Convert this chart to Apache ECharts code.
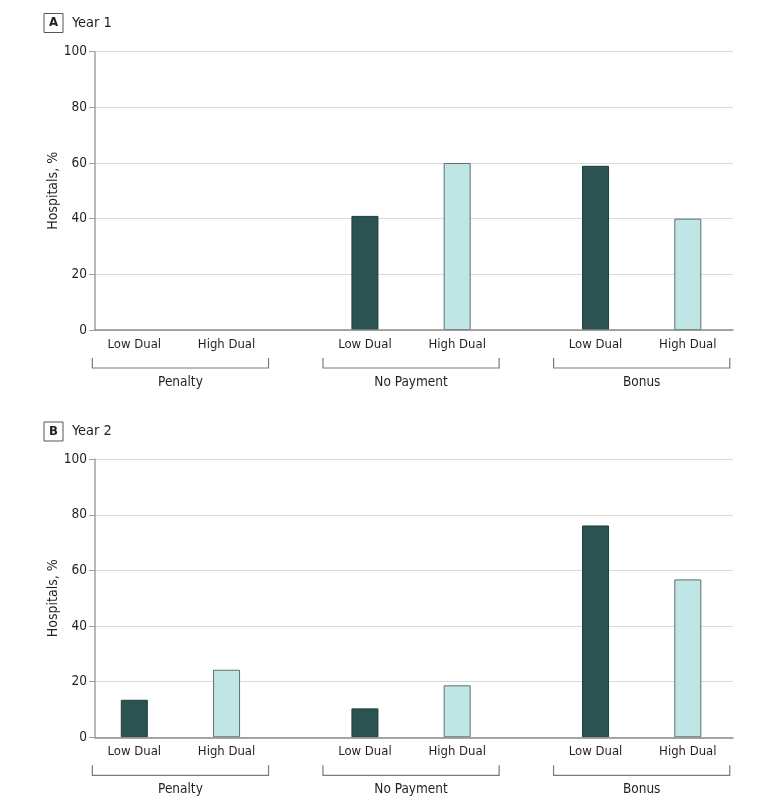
<!DOCTYPE html>
<html>
<head>
<meta charset="utf-8">
<script src="https://cdn.jsdelivr.net/npm/echarts@6/dist/echarts.min.js"></script>
<style>
html,body{margin:0;padding:0;background:#fff;}
#chart{width:780px;height:809px;}
</style>
</head>
<body>
<div id="chart"></div>
<script>
// ---- data ----
const groups = ['Penalty', 'No Payment', 'Bonus'];
const duals = ['Low Dual', 'High Dual'];
const panelTitles = [['A', 'Year 1'], ['B', 'Year 2']];
const year1Low = [0, 41, 59];
const year1High = [0, 60, 40];
const year2Low = [13.5, 10.4, 76.2];
const year2High = [24.3, 18.7, 56.8];
const yTickLabels = [0, 20, 40, 60, 80, 100];
const yAxisName = 'Hospitals, %';

// ---- layout (slot units on a hidden value axis) ----
const groupStride = 5;
const dualOffset = [0, 2];
const xMin = -0.852, xMax = 12.98;
const bracketHalf = 1.91;
const FONT = '"DejaVu Sans Condensed", "DejaVu Sans", sans-serif';
const TXT = '#231f20';
const colors = ['#2b5352', '#c0e5e5'];
const borders = ['#1e3d3d', '#5d7070'];

const panels = [[year1Low, year1High], [year2Low, year2High]];
const gridTops = [51.7, 459.3];
const gridH = [278.3, 278];

const slotPositions = [];
const slotLabels = [];
groups.forEach((g, gi) => duals.forEach((d, di) => {
  slotPositions.push(gi * groupStride + dualOffset[di]);
  slotLabels.push(d);
}));
const groupCenters = groups.map((g, gi) => gi * groupStride + (dualOffset[0] + dualOffset[1]) / 2);

const option = {
  animation: false,
  backgroundColor: '#fff',
  textStyle: { fontFamily: FONT, color: TXT },
  title: panelTitles.map((t, i) => ({
    text: '{b|' + t[0] + '}{t|' + t[1] + '}',
    left: 44,
    top: i === 0 ? 13 : 421.5,
    padding: 0,
    textStyle: {
      fontWeight: 'normal',
      rich: {
        b: { fontFamily: FONT, fontSize: 13, fontWeight: 'bold', color: TXT, borderColor: '#555', borderWidth: 1,
             width: 19, height: 19, lineHeight: 19, align: 'center' },
        t: { fontFamily: FONT, fontSize: 14.5, fontWeight: 'normal', color: TXT, padding: [0, 0, 0, 9], lineHeight: 20 }
      }
    }
  })),
  grid: gridTops.map((t, i) => ({ left: 95, right: 47, top: t, height: gridH[i], containLabel: false })),
  xAxis: [],
  yAxis: [],
  series: []
};

panels.forEach((vals, pi) => {
  // bar axis with dual labels
  option.xAxis.push({
    type: 'value', gridIndex: pi, min: xMin, max: xMax, position: 'bottom', z: 10,
    axisLine: { show: true, onZero: false, lineStyle: { color: '#8c8c8c', width: 1.5 } },
    axisTick: { show: false },
    splitLine: { show: false },
    axisLabel: {
      show: true, customValues: slotPositions, margin: 8,
      fontFamily: FONT, fontSize: 13, color: TXT,
      formatter: v => { const k = slotPositions.indexOf(Math.round(v)); return k >= 0 ? slotLabels[k] : ''; }
    }
  });
  // group label axis
  option.xAxis.push({
    type: 'value', gridIndex: pi, min: xMin, max: xMax, position: 'bottom', offset: 38,
    axisLine: { show: false }, axisTick: { show: false }, splitLine: { show: false },
    axisLabel: {
      show: true, customValues: groupCenters, margin: 7,
      fontFamily: FONT, fontSize: 13.5, color: TXT,
      formatter: v => { const k = groupCenters.indexOf(Math.round(v)); return k >= 0 ? groups[k] : ''; }
    }
  });
  option.yAxis.push({
    type: 'value', gridIndex: pi, min: 0, max: 100, interval: 20,
    name: yAxisName, nameLocation: 'middle', nameGap: 35, nameRotate: 90, nameMoveOverlap: false,
    nameTextStyle: { fontFamily: FONT, fontSize: 14, color: TXT },
    axisLine: { show: true, onZero: false, lineStyle: { color: '#a0a0a0', width: 1.5 } },
    axisTick: { show: true, length: 6, lineStyle: { color: '#a0a0a0' } },
    axisLabel: { fontFamily: FONT, fontSize: 13.5, color: TXT, margin: 8,
      formatter: v => (yTickLabels.indexOf(v) >= 0 ? String(v) : '') },
    splitLine: { show: true, lineStyle: { color: '#dadada', width: 1 } }
  });
  const data = [];
  groups.forEach((g, gi) => duals.forEach((d, di) => {
    const v = vals[di][gi];
    data.push({
      value: [gi * groupStride + dualOffset[di], v],
      itemStyle: { color: colors[di], borderColor: borders[di], borderWidth: v > 0 ? 1 : 0 }
    });
  }));
  option.series.push({
    type: 'bar', xAxisIndex: pi * 2, yAxisIndex: pi, barWidth: 27, data: data, z: 3
  });
  option.series.push({
    type: 'custom', xAxisIndex: pi * 2, yAxisIndex: pi, clip: false, silent: true,
    data: groupCenters.map(c => [c, 0]),
    renderItem: (params, api) => {
      const c = api.value(0);
      const p1 = api.coord([c - bracketHalf, 0]);
      const p2 = api.coord([c + bracketHalf, 0]);
      const yTop = p1[1] + 28, yLine = p1[1] + 38;
      return {
        type: 'polyline',
        shape: { points: [[p1[0], yTop], [p1[0], yLine], [p2[0], yLine], [p2[0], yTop]] },
        style: { stroke: '#7a7a7a', lineWidth: 1.2, fill: null }
      };
    }
  });
});

const chart = echarts.init(document.getElementById('chart'), null, { renderer: 'canvas' });
chart.setOption(option);
</script>
</body>
</html>
